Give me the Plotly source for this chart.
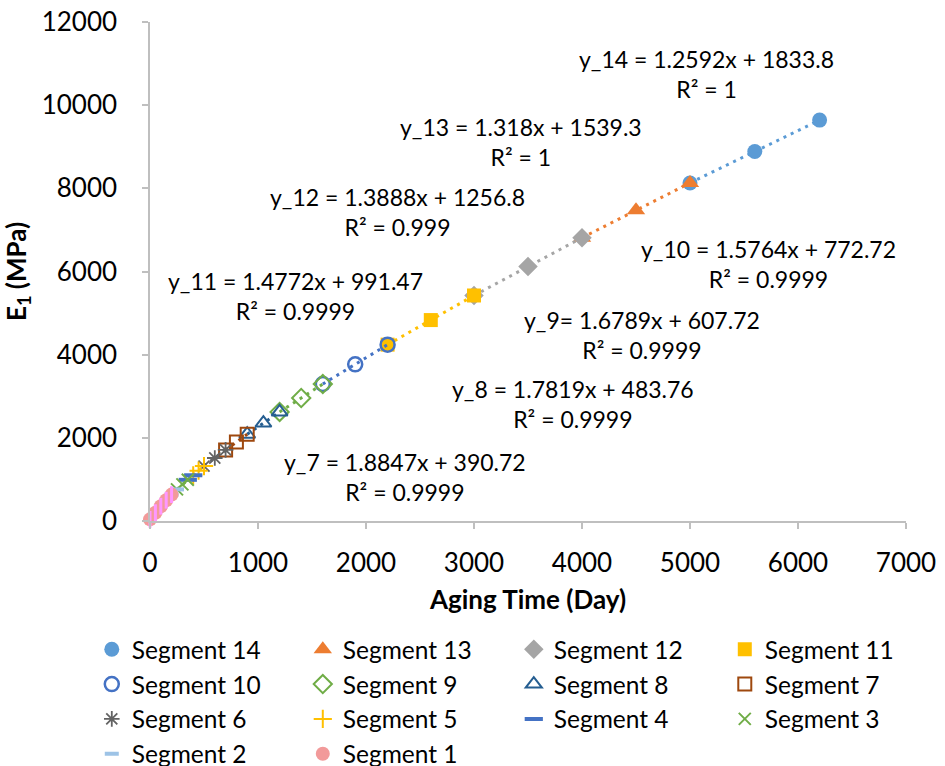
import numpy as np
import plotly.graph_objects as go

# Aging time (days) and E1 (MPa) for each segment
seg_names = [f"Segment {i}" for i in range(14, 0, -1)]

x14 = [5000, 5600, 6200]
y14 = [8130, 8885, 9641]
x13 = [4000, 4500, 5000]
y13 = [6811, 7470, 8129]
x12 = [3000, 3500, 4000]
y12 = [5423, 6118, 6812]
x11 = [2200, 2600, 3000]
y11 = [4241, 4832, 5423]
x10 = [1600, 1900, 2200]
y10 = [3295, 3768, 4241]
x9 = [1200, 1400, 1600]
y9 = [2622, 2958, 3294]
x8 = [900, 1050, 1200]
y8 = [2087, 2355, 2622]
x7 = [700, 800, 900]
y7 = [1710, 1898, 2087]
x6 = [500, 600, 700]
y6 = [1320, 1515, 1710]
x5 = [400, 450, 500]
y5 = [1100, 1210, 1320]
x4 = [350, 400]
y4 = [990, 1100]
x3 = [250, 300, 350]
y3 = [760, 880, 990]
x2 = [200, 250]
y2 = [635, 760]
x1 = [0, 50, 100, 150, 200]
y1 = [40, 200, 355, 500, 635]

# Trend-line coefficients (slope, intercept, R²) for segments 14..7
fit_slope = [1.2592, 1.318, 1.3888, 1.4772, 1.5764, 1.6789, 1.7819, 1.8847]
fit_icept = [1833.8, 1539.3, 1256.8, 991.47, 772.72, 607.72, 483.76, 390.72]
fit_r2 = ["1", "1", "0.999", "0.9999", "0.9999", "0.9999", "0.9999", "0.9999"]
fit_label = ["y_14 = ", "y_13 = ", "y_12 = ", "y_11 = ", "y_10 = ", "y_9= ", "y_8 = ", "y_7 = "]

xs = [x14, x13, x12, x11, x10, x9, x8, x7, x6, x5, x4, x3, x2, x1]
ys = [y14, y13, y12, y11, y10, y9, y8, y7, y6, y5, y4, y3, y2, y1]

styles = [
    dict(symbol="circle", color="#5B9BD5", size=15, lw=0),
    dict(symbol="triangle-up", color="#ED7D31", size=16, lw=0),
    dict(symbol="diamond", color="#A5A5A5", size=15, lw=0),
    dict(symbol="square", color="#FFC000", size=14, lw=0),
    dict(symbol="circle-open", color="#4472C4", size=14, lw=2.5),
    dict(symbol="diamond-open", color="#70AD47", size=14, lw=2),
    dict(symbol="triangle-up-open", color="#255E91", size=14, lw=2),
    dict(symbol="square-open", color="#9E480E", size=13, lw=2),
    dict(symbol="asterisk-open", color="#636363", size=13, lw=1.8),
    dict(symbol="cross-thin-open", color="#FFC000", size=13, lw=2),
    dict(symbol="line-ew-open", color="#4472C4", size=13, lw=4),
    dict(symbol="x-thin-open", color="#70AD47", size=12, lw=2),
    dict(symbol="line-ew-open", color="#9DC3E6", size=10, lw=4),
    dict(symbol="circle", color="#F29A9A", size=14, lw=0),
]

FONT = "Lato"
fig = go.Figure()

for i, (name, xv, yv, st) in enumerate(zip(seg_names, xs, ys, styles)):
    xa = np.array(xv, dtype=float)
    if i < len(fit_slope):
        m, b = fit_slope[i], fit_icept[i]
    else:
        m, b = np.polyfit(xa, np.array(yv, dtype=float), 1)
    xl = np.array([xa.min(), xa.max()])
    fig.add_trace(go.Scatter(
        x=xl, y=m * xl + b, mode="lines", showlegend=False, hoverinfo="skip",
        line=dict(color=st["color"], width=3, dash="3px,5px"),
    ))
    fig.add_trace(go.Scatter(
        x=xv, y=yv, mode="markers", name=name, legendgroup=name, cliponaxis=False,
        marker=dict(symbol=st["symbol"], size=st["size"], color=st["color"],
                    line=dict(color=st["color"], width=st["lw"])),
    ))
    if name == "Segment 1":
        # vertical red stripes over the pale circles
        fig.add_trace(go.Scatter(
            x=xv, y=yv, mode="markers", showlegend=False, legendgroup=name,
            cliponaxis=False, hoverinfo="skip",
            marker=dict(symbol="line-ns-open", size=12,
                        line=dict(color="#E01818", width=3)),
        ))

# Equation labels: centre positions in data units
ann_x = [5157, 3435, 2296, 1343, 5731, 4556, 3917, 2361]
ann_y = [10738, 9103, 7419, 5411, 6181, 4473, 2814, 1070]
for i in range(len(fit_slope)):
    txt = f"{fit_label[i]}{fit_slope[i]}x + {fit_icept[i]}<br>R² = {fit_r2[i]}"
    fig.add_annotation(x=ann_x[i], y=ann_y[i], text=txt, showarrow=False,
                       xanchor="center", yanchor="middle", align="center",
                       font=dict(family=FONT, size=23, color="#000000"))

axis_common = dict(
    showline=True, linecolor="#BFBFBF", linewidth=1.5,
    ticks="outside", ticklen=6, tickcolor="#BFBFBF", tickwidth=1.5,
    showgrid=False, zeroline=False, tickformat="d",
    tickfont=dict(family=FONT, size=26, color="#000000"),
)

fig.update_layout(
    width=945, height=766,
    margin=dict(l=150, r=39, t=22, b=245, autoexpand=False),
    paper_bgcolor="white", plot_bgcolor="white",
    xaxis=dict(range=[0, 7000], dtick=1000, ticklabelstandoff=12,
               title=dict(text="<b>Aging Time (Day)</b>", standoff=14,
                          font=dict(family=FONT, size=26, color="#000000")),
               **axis_common),
    yaxis=dict(range=[0, 12000], dtick=2000, ticklabelstandoff=20,
               title=dict(text="<b>E<sub>1</sub> (MPa)</b>", standoff=12,
                          font=dict(family=FONT, size=26, color="#000000")),
               **axis_common),
    legend=dict(orientation="h", x=-0.077, y=-0.212, xanchor="left", yanchor="top",
                entrywidth=166, entrywidthmode="pixels",
                font=dict(family=FONT, size=24.5, color="#000000"),
                itemsizing="trace", tracegroupgap=0, bgcolor="rgba(0,0,0,0)"),
    showlegend=True,
)

fig.write_html("out.html")
